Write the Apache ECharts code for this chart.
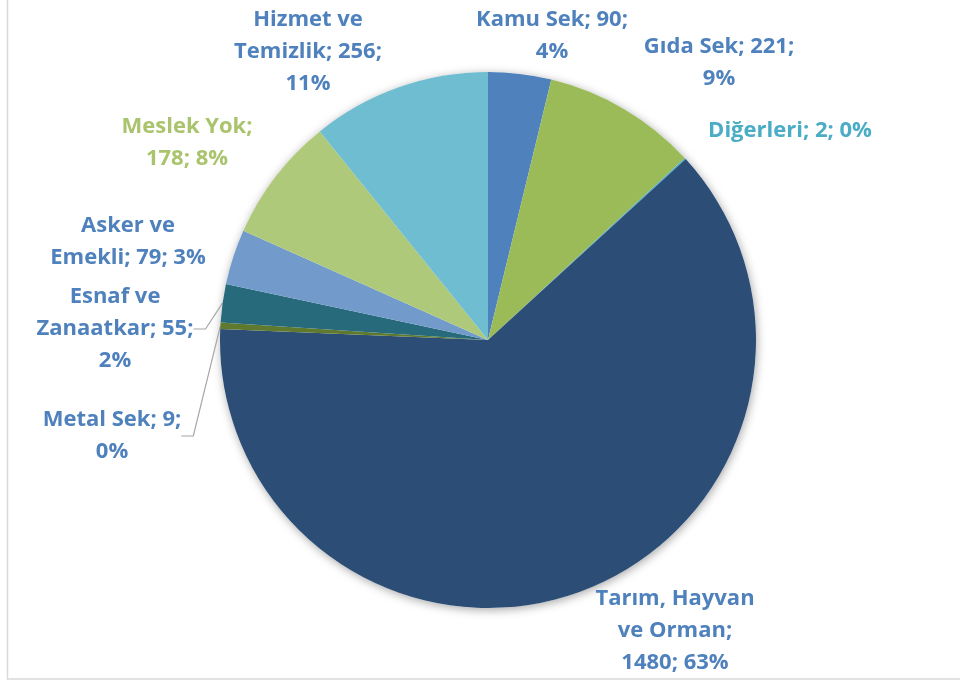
<!DOCTYPE html>
<html lang="tr">
<head>
    <meta charset="UTF-8">
    <title>Meslek dağılımı</title>
    <script src="https://cdn.jsdelivr.net/npm/echarts@6/dist/echarts.min.js"></script>
    <style>
        html, body { margin: 0; padding: 0; background: #fff; }
        #main { width: 960px; height: 686px; }
    </style>
</head>
<body>
    <div id="main"></div>
    <script>
        // veri
        var names = ['Kamu Sek', 'Gıda Sek', 'Diğerleri', 'Tarım, Hayvan ve Orman', 'Metal Sek',
            'Esnaf ve Zanaatkar', 'Asker ve Emekli', 'Meslek Yok', 'Hizmet ve Temizlik'];
        var values = [90, 221, 2, 1480, 9, 55, 79, 178, 256];
        var percents = [4, 9, 0, 63, 0, 2, 3, 8, 11];
        // etiket satır kırılımları ({v} = değer, {p} = yüzde)
        var labelTpl = [
            'Kamu Sek; {v};\n{p}%',
            'Gıda Sek; {v};\n{p}%',
            'Diğerleri; {v}; {p}%',
            'Tarım, Hayvan\nve Orman;\n{v}; {p}%',
            'Metal Sek; {v};\n{p}%',
            'Esnaf ve\nZanaatkar; {v};\n{p}%',
            'Asker ve\nEmekli; {v}; {p}%',
            'Meslek Yok;\n{v}; {p}%',
            'Hizmet ve\nTemizlik; {v};\n{p}%'
        ];

        var colors = ['#4F81BD', '#9BBB59', '#4BACC6', '#2C4D75', '#5F7A2E',
            '#276A7C', '#729ACA', '#AFC97A', '#6FBDD1'];
        var labelColors = ['#4F81BD', '#4F81BD', '#4BACC6', '#4F81BD', '#4F81BD',
            '#4F81BD', '#4F81BD', '#A9C46C', '#4F81BD'];
        // etiket merkezleri (piksel)
        var labelPos = [[552, 36], [719, 63], [790, 131], [675, 631], [112, 436],
            [115, 329], [128, 242], [187, 143], [308, 52]];

        var data = names.map(function (n, i) {
            var showLine = (i === 4 || i === 5);
            return {
                name: n,
                value: values[i],
                itemStyle: { color: colors[i] },
                label: { color: labelColors[i] },
                labelLine: { show: showLine }
            };
        });

        var chart = echarts.init(document.getElementById('main'));
        chart.setOption({
            animation: false,
            graphic: [{
                type: 'rect',
                shape: { x: 7.5, y: -10, width: 1000, height: 689 },
                style: { fill: null, stroke: '#d9d9d9', lineWidth: 1.5 },
                z: -10
            }],
            series: [
                {
                    // gölge katmanı
                    type: 'pie',
                    center: [488, 340],
                    radius: 268,
                    silent: true,
                    label: { show: false },
                    labelLine: { show: false },
                    data: [{ value: 1, itemStyle: { color: '#fff', shadowBlur: 10, shadowColor: 'rgba(0,0,0,0.35)', shadowOffsetX: 1, shadowOffsetY: 2 } }],
                    z: 1
                },
                {
                    type: 'pie',
                    center: [488, 340],
                    radius: 268,
                    startAngle: 90,
                    clockwise: true,
                    avoidLabelOverlap: false,
                    itemStyle: { borderWidth: 0 },
                    label: {
                        show: true,
                        position: 'outside',
                        fontFamily: 'Open Sans',
                        fontWeight: 'bold',
                        fontSize: 22,
                        lineHeight: 32,
                        align: 'center',
                        formatter: function (p) {
                            var i = p.dataIndex;
                            return labelTpl[i].replace('{v}', values[i]).replace('{p}', percents[i]);
                        }
                    },
                    labelLine: {
                        length: 8,
                        length2: 12,
                        lineStyle: { color: '#a6a6a6', width: 1.2 }
                    },
                    labelLayout: function (params) {
                        var pos = labelPos[params.dataIndex];
                        return { x: pos[0], y: pos[1], align: 'center', verticalAlign: 'middle' };
                    },
                    data: data,
                    z: 2
                }
            ]
        });
    </script>
</body>
</html>
